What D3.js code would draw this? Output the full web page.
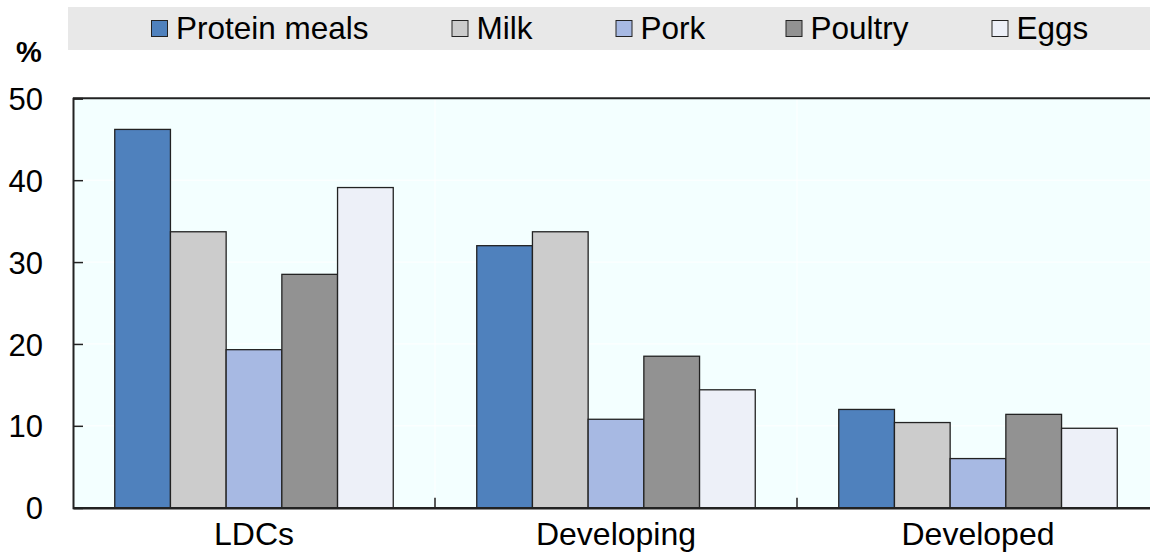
<!DOCTYPE html>
<html><head><meta charset="utf-8">
<script src="https://cdn.jsdelivr.net/npm/d3@7"></script>
<style>html,body{margin:0;padding:0;background:#fff;overflow:hidden}svg{display:block}</style>
</head><body>
<svg id="chart" width="1150" height="554"></svg>
<script>
const categories = ["LDCs", "Developing", "Developed"];
const seriesNames = ["Protein meals", "Milk", "Pork", "Poultry", "Eggs"];
const proteinMeals = [46.2, 32.0, 12.0];
const milk = [33.7, 33.7, 10.4];
const pork = [19.3, 10.8, 6.0];
const poultry = [28.5, 18.5, 11.4];
const eggs = [39.1, 14.4, 9.7];
const yTicks = [0, 10, 20, 30, 40, 50];
const colors = ["#4F81BD", "#CCCCCC", "#A7B9E3", "#929292", "#EDF0F8"];

const seriesValues = [proteinMeals, milk, pork, poultry, eggs];
const svg = d3.select("#chart");
const font = "'Liberation Sans', Arial, sans-serif";

const pLeft = 73, pTop = 98.3, pBottom = 507.7, pRight = 1159;
const x = d3.scaleBand().domain(categories).range([pLeft, pRight]).padding(0);
const y = d3.scaleLinear().domain([0, 50]).range([pBottom, pTop]);
const groupW = 278.5;
const xs = d3.scaleBand().domain(seriesNames).range([0, groupW]).padding(0);

// legend background
svg.append("rect").attr("x", 68).attr("y", 7).attr("width", 1082).attr("height", 43).attr("fill", "#E8E8E8");
const legX = [151.5, 452, 616, 786, 992];
seriesNames.forEach((s, i) => {
  svg.append("rect").attr("x", legX[i]).attr("y", 20.5).attr("width", 16).attr("height", 16)
    .attr("fill", colors[i]).attr("stroke", "#222").attr("stroke-width", 1);
  svg.append("text").attr("x", legX[i] + 24.5).attr("y", 39).attr("font-family", font)
    .attr("font-size", 31.5).attr("fill", "#000").text(s);
});

// plot background
svg.append("rect").attr("x", pLeft).attr("y", pTop).attr("width", pRight - pLeft).attr("height", pBottom - pTop).attr("fill", "#F3FFFF");

// gridlines
svg.append("g").selectAll("line").data(yTicks.slice(1, -1)).join("line")
  .attr("x1", pLeft).attr("x2", pRight).attr("y1", d => y(d)).attr("y2", d => y(d))
  .attr("stroke", "#FFFFFF").attr("stroke-width", 1);
svg.append("g").selectAll("line").data(categories.slice(1)).join("line")
  .attr("x1", d => x(d)).attr("x2", d => x(d)).attr("y1", pTop).attr("y2", pBottom)
  .attr("stroke", "#FFFFFF").attr("stroke-width", 1);

// bars
seriesNames.forEach((s, i) => {
  svg.append("g").selectAll("rect").data(categories).join("rect")
    .attr("x", (c) => x(c) + x.bandwidth() / 2 - groupW / 2 + xs(s))
    .attr("width", xs.bandwidth())
    .attr("y", (c, j) => y(seriesValues[i][j]))
    .attr("height", (c, j) => pBottom - y(seriesValues[i][j]))
    .attr("fill", colors[i]).attr("stroke", "#222").attr("stroke-width", 1.3);
});

// top border
svg.append("line").attr("x1", pLeft).attr("x2", pRight).attr("y1", pTop).attr("y2", pTop).attr("stroke", "#222").attr("stroke-width", 2);

// y axis
const yAxis = d3.axisLeft(y).tickValues(yTicks).tickSize(-10).tickPadding(30).tickFormat(d3.format("d"));
const yg = svg.append("g").attr("transform", `translate(${pLeft},0)`).call(yAxis);
yg.select(".domain").attr("stroke", "#222").attr("stroke-width", 2);
yg.selectAll(".tick line").attr("stroke", "#222").attr("stroke-width", 1.5);
yg.selectAll(".tick text").attr("font-family", font).attr("font-size", 31).attr("fill", "#000")
  .attr("x", -30).attr("dy", "0.36em");

// x axis
const xAxis = d3.axisBottom(x).tickSize(0).tickPadding(15);
const xg = svg.append("g").attr("transform", `translate(0,${pBottom})`).call(xAxis);
xg.select(".domain").attr("stroke", "#222").attr("stroke-width", 2.5);
xg.selectAll(".tick text").attr("font-family", font).attr("font-size", 32).attr("fill", "#000").attr("dy", "0.71em");
// category separator ticks
svg.append("g").selectAll("line").data(categories.slice(1)).join("line")
  .attr("x1", d => x(d)).attr("x2", d => x(d)).attr("y1", pBottom).attr("y2", pBottom - 10)
  .attr("stroke", "#222").attr("stroke-width", 1.5);

// unit label
svg.append("text").attr("x", 16).attr("y", 62).attr("font-family", font).attr("font-size", 29)
  .attr("font-weight", "bold").attr("fill", "#000").text("%");
</script>
</body></html>
